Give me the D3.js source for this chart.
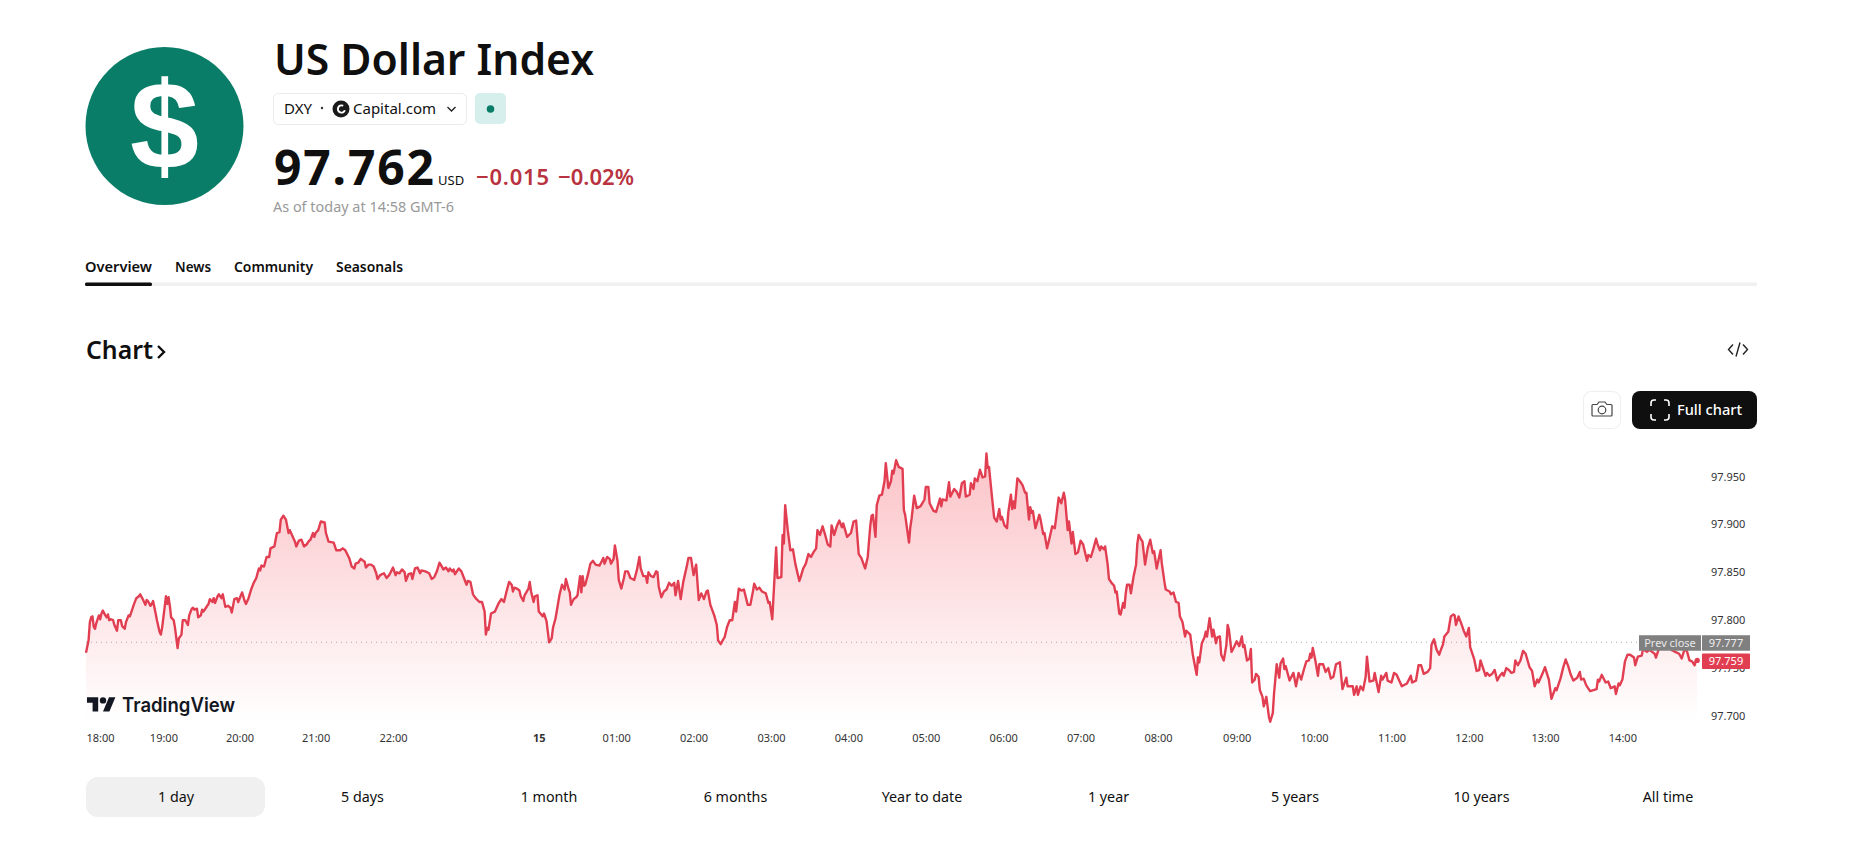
<!DOCTYPE html>
<html>
<head>
<meta charset="utf-8">
<title>US Dollar Index</title>
<script src="https://cdn.jsdelivr.net/npm/d3@7"></script>
<style>
    body { margin: 0; background: #fff; }
    text { font-family: "Noto Sans", sans-serif; fill: #0f0f0f; }
</style>
</head>
<body>
<div id="chart"></div>
<script>
const minutesA = [
    0,2,3,4,5,6,7,8,10,11,
    12,13,15,16,17,18,19,21,22,24,
    25,27,28,30,31,33,34,35,37,39,
    41,42,44,46,47,48,50,51,52,54,
    55,57,58,59,61,62,63,64,65,66,
    68,69,71,72,74,75,77,79,80,82,
    83,84,86,87,89,90,91,93,95,96,
    98,99,100,102,103,105,106,108,110,112,
    113,115,117,118,121,123,124,126,128,130,
    132,134,135,136,138,140,142,143,146,148,
    150,151,153,155,157,158,160,162,163,165,
    167,169,171,173,174,176,177,178,180,182,
    185,186,188,192,194,197,199,201,204,206,
    208];
const pricesA = [
    97.766,97.779,97.798,97.803,97.804,97.793,97.791,97.797,97.805,97.801,
    97.807,97.810,97.805,97.803,97.806,97.800,97.801,97.800,97.795,97.789,
    97.800,97.800,97.794,97.791,97.798,97.805,97.804,97.808,97.816,97.823,
    97.825,97.827,97.822,97.816,97.821,97.820,97.815,97.817,97.820,97.807,
    97.800,97.788,97.785,97.792,97.814,97.825,97.817,97.824,97.815,97.803,
    97.800,97.792,97.771,97.781,97.785,97.800,97.800,97.795,97.805,97.812,
    97.813,97.811,97.812,97.803,97.805,97.811,97.809,97.813,97.817,97.822,
    97.819,97.823,97.818,97.825,97.827,97.823,97.827,97.814,97.815,97.813,
    97.808,97.822,97.823,97.819,97.829,97.820,97.817,97.823,97.832,97.839,
    97.844,97.854,97.852,97.857,97.856,97.866,97.866,97.875,97.877,97.891,
    97.892,97.905,97.909,97.905,97.891,97.894,97.888,97.882,97.877,97.883,
    97.884,97.877,97.879,97.883,97.884,97.891,97.887,97.891,97.894,97.903,
    97.902,97.891,97.882,97.881,97.873,97.873,97.875,97.873,97.865,97.856,
    97.854];

const minutesB = [
    209,211,213,216,217,219,221,223,225,226,
    228,231,233,235,238,240,241,243,245,247,
    248,250,252,253,255,257,259,260,263,266,
    268,270,272,274,275,277,279,281,282,284,
    285,286,289,291,293,295,296,298,300,302,
    305,307,309,310,311,312,314,317,319,320,
    322,324,326,328,330,331,332,334,336,337,
    339,340,343,344,345,347,348,350,351,354,
    355,357,358,359,361,362,364,366,367,369,
    371,372,374,375,376,378,380,381,383,384,
    385,386,387,389,391,393,395,398,400,401,
    402,404,406,407,409,410,412,413,415,417];
const pricesB = [
    97.859,97.860,97.864,97.861,97.855,97.858,97.858,97.856,97.849,97.843,
    97.847,97.849,97.844,97.847,97.855,97.847,97.850,97.849,97.853,97.850,
    97.841,97.848,97.849,97.843,97.854,97.855,97.849,97.852,97.851,97.849,
    97.843,97.845,97.851,97.860,97.858,97.853,97.855,97.851,97.854,97.851,
    97.853,97.848,97.854,97.851,97.844,97.837,97.841,97.840,97.827,97.823,
    97.819,97.819,97.809,97.785,97.792,97.790,97.807,97.809,97.815,97.818,
    97.822,97.819,97.830,97.840,97.837,97.830,97.834,97.833,97.831,97.825,
    97.820,97.826,97.833,97.840,97.830,97.819,97.825,97.826,97.809,97.804,
    97.807,97.799,97.788,97.777,97.781,97.792,97.802,97.818,97.826,97.837,
    97.832,97.843,97.833,97.829,97.816,97.822,97.824,97.826,97.846,97.829,
    97.846,97.836,97.837,97.847,97.859,97.862,97.858,97.857,97.862,97.865,
    97.859,97.866,97.864,97.859,97.864,97.878,97.862,97.842,97.833,97.844];

const minutesC = [
    418,420,422,425,427,429,430,432,434,435,
    436,438,440,442,443,444,446,448,450,452,
    454,456,457,459,461,463,465,466,467,469,
    471,473,475,477,479,481,482,484,487,489,
    490,492,494,495,497,499,501,503,504,506,
    508,510,513,515,517,518,520,522,524,527,
    529,530,532,535,536,539,540,541,542,544,
    546,548,550,553,554,556,558,560,562,564,
    566,567,569,571,573,575,577,578,580,582,
    584,586,587,590,593,595,597,599,601,604,
    606,608,609,610,612,613,615,617,619,620,
    622,624,625,626];
const pricesC = [
    97.851,97.851,97.844,97.842,97.852,97.866,97.854,97.846,97.846,97.839,
    97.850,97.846,97.845,97.851,97.850,97.835,97.824,97.830,97.832,97.839,
    97.836,97.839,97.826,97.841,97.822,97.840,97.852,97.858,97.865,97.865,
    97.847,97.858,97.821,97.828,97.822,97.830,97.831,97.816,97.805,97.795,
    97.779,97.775,97.780,97.782,97.793,97.800,97.800,97.819,97.809,97.833,
    97.831,97.832,97.816,97.816,97.830,97.838,97.832,97.834,97.830,97.828,
    97.818,97.819,97.801,97.876,97.844,97.845,97.889,97.880,97.920,97.894,
    97.873,97.874,97.858,97.841,97.845,97.854,97.859,97.869,97.866,97.871,
    97.875,97.894,97.889,97.898,97.889,97.879,97.877,97.899,97.889,97.898,
    97.904,97.897,97.901,97.887,97.891,97.903,97.904,97.869,97.865,97.854,
    97.866,97.899,97.909,97.910,97.887,97.920,97.930,97.931,97.945,97.964,
    97.938,97.945,97.956,97.953];

const minutesD = [
    628,630,633,634,635,638,639,640,642,644,
    647,650,651,653,654,657,659,662,663,664,
    667,669,670,673,675,677,679,681,682,685,
    686,688,689,691,693,695,697,698,699,700,
    702,704,706,708,709,710,712,714,715,717,
    718,719,720,722,724,726,728,729,731,732,
    733,734,736,739,740,742,743,745,747,749,
    751,752,754,756,758,759,761,762,764,765,
    767,769,771,773,776,777,779,781,783,784,
    786,787,789,790,792,793,795,797,798,799,
    801,802,804,805,806,807,809,810,812,814,
    815,816,818,819,821,823,825,827,828,830,
    833,834,836];
const pricesD = [
    97.967,97.960,97.958,97.915,97.910,97.881,97.897,97.906,97.930,97.917,
    97.919,97.926,97.939,97.939,97.922,97.914,97.913,97.927,97.919,97.926,
    97.925,97.944,97.929,97.937,97.934,97.928,97.943,97.945,97.929,97.931,
    97.943,97.937,97.948,97.945,97.957,97.949,97.950,97.974,97.959,97.960,
    97.933,97.907,97.903,97.916,97.905,97.908,97.899,97.896,97.913,97.931,
    97.916,97.924,97.917,97.948,97.945,97.941,97.933,97.933,97.905,97.918,
    97.912,97.914,97.896,97.910,97.905,97.890,97.891,97.875,97.886,97.898,
    97.896,97.906,97.928,97.922,97.933,97.926,97.894,97.903,97.880,97.892,
    97.869,97.871,97.883,97.879,97.862,97.868,97.866,97.875,97.885,97.880,
    97.873,97.877,97.874,97.877,97.858,97.843,97.839,97.836,97.829,97.830,
    97.807,97.806,97.818,97.813,97.828,97.837,97.837,97.828,97.845,97.858,
    97.880,97.889,97.884,97.882,97.858,97.875,97.884,97.870,97.872,97.854,
    97.873,97.859,97.840];

const minutesE = [
    837,840,841,843,845,847,848,850,852,853,
    856,858,861,862,863,865,867,868,869,871,
    873,874,876,877,879,880,882,884,885,886,
    888,890,892,894,896,897,898,900,902,903,
    904,906,907,909,910,912,913,915,917,918,
    920,921,923,925,926,928,929,930,933,936,
    938,940,942,944,946,948,949,950,951,953,
    955,956,959,961,963,965,967,969,972,974,
    977,978,982,983,985,986,988,990,992,993,
    995,998,999,1002,1004,1005,1008,1009,1012,1014,
    1016,1020,1024,1027,1028,1031,1033,1035,1037,1040,
    1042,1043,1045];
const pricesE = [
    97.832,97.830,97.827,97.829,97.819,97.818,97.804,97.798,97.783,97.789,
    97.785,97.764,97.743,97.761,97.756,97.776,97.782,97.788,97.783,97.802,
    97.783,97.790,97.776,97.782,97.783,97.764,97.758,97.774,97.795,97.790,
    97.767,97.772,97.778,97.773,97.783,97.772,97.774,97.758,97.760,97.770,
    97.735,97.738,97.744,97.741,97.727,97.720,97.710,97.720,97.699,97.694,
    97.703,97.724,97.754,97.740,97.755,97.760,97.749,97.752,97.737,97.745,
    97.731,97.745,97.738,97.748,97.757,97.758,97.765,97.761,97.771,97.758,
    97.742,97.754,97.754,97.746,97.750,97.739,97.741,97.754,97.756,97.728,
    97.740,97.731,97.731,97.722,97.731,97.722,97.731,97.727,97.741,97.762,
    97.736,97.737,97.745,97.725,97.742,97.738,97.745,97.737,97.735,97.745,
    97.743,97.731,97.734,97.742,97.735,97.737,97.753,97.753,97.744,97.746,
    97.750,97.774,97.780];

const minutesF = [
    1047,1049,1050,1052,1053,1056,1058,1060,1061,1062,
    1064,1066,1068,1070,1072,1073,1076,1078,1080,1081,
    1083,1085,1086,1088,1090,1092,1094,1096,1098,1099,
    1101,1103,1105,1107,1108,1110,1112,1114,1116,1119,
    1121,1123,1125,1126,1129,1131,1134,1136,1139,1140,
    1143,1145,1147,1149,1151,1153,1156,1158,1159,1161,
    1163,1166,1171,1172,1173,1175,1178,1180,1182,1185,
    1186,1188,1189,1191,1193,1195,1197,1200,1201,1203,
    1206,1207,1210,1212,1216,1217,1219,1222,1226,1229,
    1232,1235,1237,1239,1241,1243,1245,1247,1248,1249];
const pricesF = [
    97.769,97.764,97.768,97.775,97.783,97.788,97.804,97.806,97.805,97.795,
    97.804,97.797,97.789,97.783,97.792,97.772,97.760,97.747,97.748,97.758,
    97.750,97.742,97.745,97.742,97.744,97.748,97.737,97.742,97.745,97.742,
    97.750,97.748,97.745,97.746,97.758,97.753,97.758,97.768,97.765,97.751,
    97.747,97.731,97.738,97.735,97.744,97.751,97.738,97.718,97.729,97.727,
    97.739,97.750,97.759,97.752,97.743,97.737,97.740,97.746,97.738,97.739,
    97.732,97.726,97.728,97.738,97.736,97.743,97.735,97.736,97.729,97.731,
    97.723,97.734,97.732,97.738,97.757,97.764,97.764,97.761,97.753,97.762,
    97.763,97.770,97.767,97.769,97.765,97.761,97.769,97.772,97.776,97.769,
    97.767,97.765,97.760,97.769,97.768,97.758,97.757,97.753,97.758,97.758];

const priceTicks = [97.7, 97.75, 97.8, 97.85, 97.9, 97.95];
const timeTickMinutes = [0,60,119,178,238,351,411,471,531,591,651,711,771,831,892,952,1012,1072,1131,1191];
const timeTickLabels = ["18:00","19:00","20:00","21:00","22:00","15","01:00","02:00","03:00","04:00",
    "05:00","06:00","07:00","08:00","09:00","10:00","11:00","12:00","13:00","14:00"];
const prevClose = 97.777;
const lastPrice = 97.759;
const rangeLabels = ["1 day","5 days","1 month","6 months","Year to date","1 year","5 years","10 years","All time"];
const pageTabs = ["Overview","News","Community","Seasonals"];

const minutes = [...minutesA, ...minutesB, ...minutesC, ...minutesD, ...minutesE, ...minutesF];
const prices = [...pricesA, ...pricesB, ...pricesC, ...pricesD, ...pricesE, ...pricesF];
const points = d3.zip(minutes, prices);

const svg = d3.select("#chart").append("svg")
    .attr("width", 1851).attr("height", 856)
    .style("display", "block");

// header
svg.append("circle").attr("cx", 164.5).attr("cy", 126).attr("r", 79).attr("fill", "#0a7d68");
svg.append("text").attr("x", 164.5).attr("y", 169).attr("text-anchor", "middle")
    .style("font-family", "Liberation Sans").style("font-weight", 700).style("font-size", "124px").style("fill", "#fff")
    .text("$");

svg.append("text").attr("x", 274).attr("y", 75).attr("textLength", 320).attr("lengthAdjust", "spacingAndGlyphs")
    .style("font-weight", 600).style("font-size", "44px").text("US Dollar Index");

svg.append("rect").attr("x", 273.5).attr("y", 93.5).attr("width", 193).attr("height", 31).attr("rx", 5)
    .attr("fill", "#fff").attr("stroke", "#ebebeb");
svg.append("text").attr("x", 284).attr("y", 114).style("font-size", "15px").text("DXY");
svg.append("circle").attr("cx", 322).attr("cy", 108).attr("r", 1.2).attr("fill", "#333");
svg.append("circle").attr("cx", 341).attr("cy", 109).attr("r", 8.5).attr("fill", "#1a1a1a");
svg.append("circle").attr("cx", 341.5).attr("cy", 109).attr("r", 3.6).attr("fill", "none").attr("stroke", "#fff").attr("stroke-width", 2)
    .attr("stroke-dasharray", "17 5.6").attr("transform", "rotate(20 341.5 109)");
svg.append("text").attr("x", 353).attr("y", 114).style("font-size", "15px").text("Capital.com");
svg.append("path").attr("d", "M447.5 107l4 4 4-4").attr("fill", "none").attr("stroke", "#222").attr("stroke-width", 1.4);
svg.append("rect").attr("x", 475).attr("y", 93).attr("width", 31).attr("height", 31).attr("rx", 5).attr("fill", "#d6efec");
svg.append("circle").attr("cx", 490.5).attr("cy", 109).attr("r", 3.8).attr("fill", "#0a7d68");

svg.append("text").attr("x", 274).attr("y", 185).attr("textLength", 160)
    .style("font-weight", 700).style("font-size", "48px").text("97.762");
svg.append("text").attr("x", 438).attr("y", 185).style("font-size", "13px").text("USD");
svg.append("text").attr("x", 476).attr("y", 185).attr("textLength", 73)
    .style("font-weight", 600).style("font-size", "22px").style("fill", "#b83240").text("\u22120.015");
svg.append("text").attr("x", 558).attr("y", 185).attr("textLength", 76)
    .style("font-weight", 600).style("font-size", "22px").style("fill", "#b83240").text("\u22120.02%");
svg.append("text").attr("x", 273).attr("y", 212).attr("textLength", 181).attr("lengthAdjust", "spacingAndGlyphs")
    .style("font-size", "15px").style("fill", "#999").text("As of today at 14:58 GMT-6");

// page tabs
const tabX = [85, 175, 234, 336];
const tabWidth = [67, 36, 79, 67];
svg.selectAll(".page-tab").data(pageTabs).join("text")
    .attr("class", "page-tab")
    .attr("x", (d, i) => tabX[i]).attr("y", 272)
    .attr("textLength", (d, i) => tabWidth[i]).attr("lengthAdjust", "spacingAndGlyphs")
    .style("font-size", "15px").style("font-weight", 600)
    .text(d => d);
svg.append("rect").attr("x", 85).attr("y", 282.5).attr("width", 1672).attr("height", 3.5).attr("fill", "#f0f0f0");
svg.append("rect").attr("x", 85).attr("y", 282.5).attr("width", 67).attr("height", 3.5).attr("rx", 1.5).attr("fill", "#0f0f0f");

// chart heading and buttons
svg.append("text").attr("x", 86).attr("y", 359).attr("textLength", 67).attr("lengthAdjust", "spacingAndGlyphs")
    .style("font-weight", 600).style("font-size", "26px").text("Chart");
svg.append("path").attr("d", "M158 346l6 6-6 6").attr("fill", "none").attr("stroke", "#0f0f0f").attr("stroke-width", 2.4);
svg.append("path").attr("d", "M1733 344.5l-4.5 5 4.5 5M1743 344.5l4.5 5-4.5 5M1740 342.5l-4 14")
    .attr("fill", "none").attr("stroke", "#222").attr("stroke-width", 1.4);

svg.append("rect").attr("x", 1583.5).attr("y", 391.5).attr("width", 37).attr("height", 37).attr("rx", 8)
    .attr("fill", "#fff").attr("stroke", "#eeeeee");
svg.append("path").attr("d", "M1593 404.5h4l2-2.5h6l2 2.5h4a1 1 0 0 1 1 1v9.500a1 1 0 0 1-1 1h-18a1 1 0 0 1-1-1v-9.500a1 1 0 0 1 1-1z")
    .attr("fill", "none").attr("stroke", "#444").attr("stroke-width", 1.2);
svg.append("circle").attr("cx", 1602).attr("cy", 410).attr("r", 3.8).attr("fill", "none").attr("stroke", "#444").attr("stroke-width", 1.2);

svg.append("rect").attr("x", 1632).attr("y", 391).attr("width", 125).attr("height", 38).attr("rx", 8).attr("fill", "#0f0f0f");
svg.append("path")
    .attr("d", "M1651 406v-3a3 3 0 0 1 3-3h2M1664 400h2a3 3 0 0 1 3 3v3M1669 414v3a3 3 0 0 1-3 3h-2M1656 420h-2a3 3 0 0 1-3-3v-3")
    .attr("fill", "none").attr("stroke", "#fff").attr("stroke-width", 1.6);
svg.append("text").attr("x", 1677).attr("y", 415).attr("textLength", 65).attr("lengthAdjust", "spacingAndGlyphs")
    .style("font-size", "15px").style("font-weight", 500).style("fill", "#fff").text("Full chart");

// scales
const x = d3.scaleLinear().domain([0, 1249]).range([86, 1697.2]);
const y = d3.scaleLinear().domain([97.7, 97.95]).range([716, 476.5]);

const defs = svg.append("defs");
const grad = defs.append("linearGradient").attr("id", "areaFill")
    .attr("gradientUnits", "userSpaceOnUse")
    .attr("x1", 0).attr("x2", 0).attr("y1", 455).attr("y2", 722);
grad.append("stop").attr("offset", 0).attr("stop-color", "#f23645").attr("stop-opacity", 0.3);
grad.append("stop").attr("offset", 1).attr("stop-color", "#f23645").attr("stop-opacity", 0);

const area = d3.area().x(d => x(d[0])).y1(d => y(d[1])).y0(722);
const line = d3.line().x(d => x(d[0])).y(d => y(d[1]));

svg.append("path").datum(points).attr("d", area).attr("fill", "url(#areaFill)");

// prev close dotted line
svg.append("line")
    .attr("x1", x(0)).attr("x2", 1640)
    .attr("y1", y(prevClose)).attr("y2", y(prevClose))
    .attr("stroke", "#a8a8a8").attr("stroke-width", 1).attr("stroke-dasharray", "1 4");

svg.append("path").datum(points).attr("d", line)
    .attr("fill", "none").attr("stroke", "#e23e52").attr("stroke-width", 2.4).attr("stroke-linejoin", "round");
svg.append("circle").attr("cx", x(1249)).attr("cy", y(97.758)).attr("r", 2.6).attr("fill", "#e23e52");

// axes
const xAxis = d3.axisBottom(x).tickValues(timeTickMinutes)
    .tickFormat((d, i) => timeTickLabels[i]).tickSize(0).tickPadding(0);
const xGroup = svg.append("g").attr("transform", "translate(0,734.5)").call(xAxis);
xGroup.select(".domain").remove();
xGroup.selectAll("text")
    .attr("text-anchor", (d, i) => i === 0 ? "start" : "middle")
    .style("font-family", "Noto Sans").style("font-size", "11px").style("fill", "#333")
    .style("font-weight", (d, i) => timeTickLabels[i] === "15" ? 700 : 400);

const yAxis = d3.axisRight(y).tickValues(priceTicks).tickFormat(d3.format(".3f")).tickSize(0).tickPadding(0);
const yGroup = svg.append("g").attr("transform", "translate(1711,0)").call(yAxis);
yGroup.select(".domain").remove();
yGroup.selectAll("text")
    .style("font-family", "Noto Sans").style("font-size", "11px").style("fill", "#333");

// price labels on the right
svg.append("rect").attr("x", 1639).attr("y", y(prevClose) - 7).attr("width", 62).attr("height", 15.5).attr("fill", "#808080");
svg.append("rect").attr("x", 1702).attr("y", y(prevClose) - 7).attr("width", 48).attr("height", 15.5).attr("fill", "#808080");
svg.append("text").attr("x", 1670).attr("y", y(prevClose) + 4.5).attr("text-anchor", "middle")
    .style("font-size", "11px").style("fill", "#e8e8e8").text("Prev close");
svg.append("text").attr("x", 1726).attr("y", y(prevClose) + 4.5).attr("text-anchor", "middle")
    .style("font-size", "11px").style("fill", "#f0f0f0").text(d3.format(".3f")(prevClose));
svg.append("rect").attr("x", 1702).attr("y", y(lastPrice) - 6).attr("width", 48).attr("height", 15.5).attr("rx", 1).attr("fill", "#e23e52");
svg.append("text").attr("x", 1726).attr("y", y(lastPrice) + 5.5).attr("text-anchor", "middle")
    .style("font-size", "11px").style("fill", "#fff").text(d3.format(".3f")(lastPrice));

// TradingView mark
svg.append("path")
    .attr("transform", "translate(87,694) scale(0.8)")
    .attr("d", "M14 22H7V11H0V4h14v18zM28 22h-8l7.5-18h8L28 22z").attr("fill", "#131722");
svg.append("circle").attr("transform", "translate(87,694) scale(0.8)")
    .attr("cx", 20).attr("cy", 8).attr("r", 4).attr("fill", "#131722");
svg.append("text").attr("x", 122).attr("y", 712).attr("textLength", 113).attr("lengthAdjust", "spacingAndGlyphs")
    .style("font-family", "Inter").style("font-weight", 600).style("font-size", "20px").style("fill", "#131722").text("TradingView");

// range buttons
svg.append("rect").attr("x", 86).attr("y", 777).attr("width", 179).attr("height", 40).attr("rx", 12).attr("fill", "#f0f0f0");
const rangeX = d3.scalePoint().domain(rangeLabels).range([176, 1668]);
svg.selectAll(".range-label").data(rangeLabels).join("text")
    .attr("class", "range-label")
    .attr("x", d => rangeX(d)).attr("y", 802).attr("text-anchor", "middle")
    .style("font-size", "14.3px")
    .text(d => d);
</script>
</body>
</html>
